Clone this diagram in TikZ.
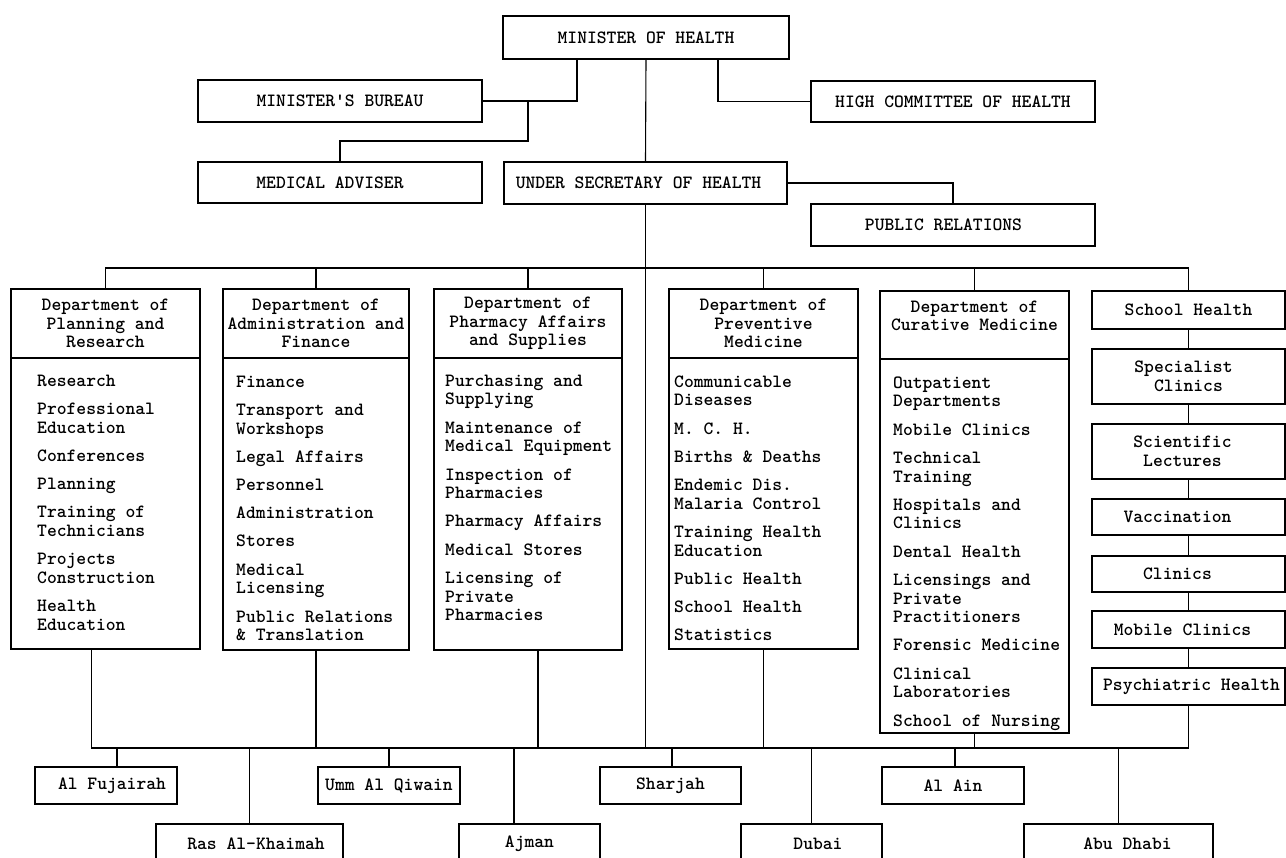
\documentclass[tikz,border=0pt]{standalone}
\usepackage{fontspec}
\begin{document}
\begin{tikzpicture}[x=1pt,y=-1pt,
  every node/.style={font=\fontsize{18.7}{18.7}\selectfont\ttfamily\bfseries},
  box/.style={draw, line width=1.1pt, inner sep=0pt, align=center},
  sz/.style 2 args={minimum width=#1pt, minimum height=#2pt},
  ln/.style={line width=1.1pt},
  list/.style={anchor=north west, align=left, inner sep=0pt},
]
\useasboundingbox (0,0) rectangle (1286,858);
\clip (0,0) rectangle (1286,858);

% ---- top level ----
\node[box, sz={286}{43}] (min) at (646,37.5) {MINISTER OF HEALTH};
\node[box, sz={284}{42}] (bureau) at (340,101) {MINISTER\textquotesingle S BUREAU};
\node[box, sz={284}{41}] (hc) at (953,101.5) {HIGH COMMITTEE OF HEALTH};
\node[box, sz={284}{41}] (medadv) at (340,182.5) {MEDICAL ADVISER\hspace*{20pt}};
\node[box, sz={283}{42}] (usec) at (645.5,183) {UNDER SECRETARY OF HEALTH\hspace*{14pt}};
\node[box, sz={284}{42}] (pr) at (953,225) {PUBLIC RELATIONS\hspace*{19pt}};

\coordinate (jb) at (528,101);
\coordinate (jm) at (528,141);
\draw[ln] ([xshift=-69pt]min.south) |- (bureau.east);
\draw[ln] (jb) -- (jm) -| (medadv.north);
\draw[ln] (min.south) -- (usec.north);
\draw[ln] ([xshift=72pt]min.south) |- (hc.west);
\draw[ln] (usec.east) -| (pr.north);

% ---- departments ----
\node[box, sz={189}{69}] (plan) at (105.5,323.5) {Department of\\Planning and\\Research};
\node[box, sz={189}{291}] (planb) at (105.5,503.5) {};
\node[list] (planl) at (37,373) {\strut Research\\[9.5pt]Professional\\Education\\[9.5pt]Conferences\\[9.5pt]Planning\\[9.5pt]Training of\\Technicians\\[9.5pt]Projects\\Construction\\[9.5pt]Health\\Education};

\node[box, sz={186}{69}] (adm) at (316,323.5) {Department of\\Administration and\\Finance};
\node[box, sz={186}{292}] (admb) at (316,504) {};
\node[list] (adml) at (236,374) {\strut Finance\\[9.5pt]Transport and\\Workshops\\[9.5pt]Legal Affairs\\[9.5pt]Personnel\\[9.5pt]Administration\\[9.5pt]Stores\\[9.5pt]Medical\\Licensing\\[9.5pt]Public Relations\\\& Translation};

\node[box, sz={188}{69}] (ph) at (528,323.5) {Department of\\Pharmacy Affairs\\and Supplies};
\node[box, sz={188}{292}] (phb) at (528,504) {};
\node[list] (phl) at (445,373) {\strut Purchasing and\\Supplying\\[9.5pt]Maintenance of\\Medical Equipment\\[9.5pt]Inspection of\\Pharmacies\\[9.5pt]Pharmacy Affairs\\[9.5pt]Medical Stores\\[9.5pt]Licensing of\\Private\\Pharmacies};

\node[box, sz={189}{69}] (prv) at (763.5,323.5) {Department of\\Preventive\\Medicine};
\node[box, sz={189}{291}] (prvb) at (763.5,503.5) {};
\node[list] (prvl) at (674,374) {\strut Communicable\\Diseases\\[9.5pt]M. C. H.\\[9.5pt]Births \& Deaths\\[9.5pt]Endemic Dis.\\Malaria Control\\[9.5pt]Training Health\\Education\\[9.5pt]Public Health\\[9.5pt]School Health\\[9.5pt]Statistics};

\node[box, sz={189}{68}] (cur) at (974.5,325) {Department of\\Curative Medicine\\\mbox{}};
\node[box, sz={189}{374}] (curb) at (974.5,546) {};
\node[list] (curl) at (893,375) {\strut Outpatient\\Departments\\[9.5pt]Mobile Clinics\\[9.5pt]Technical\\Training\\[9.5pt]Hospitals and\\Clinics\\[9.5pt]Dental Health\\[9.5pt]Licensings and\\Private\\Practitioners\\[9.5pt]Forensic Medicine\\[9.5pt]Clinical\\Laboratories\\[9.5pt]School of Nursing};

% ---- school health column ----
\node[box, sz={193}{38}] (sh) at (1188.5,310) {School Health};
\node[box, sz={193}{55}] (spc) at (1188.5,376.5) {Specialist\hspace*{10pt}\\Clinics};
\node[box, sz={193}{55}] (sci) at (1188.5,451.5) {Scientific\hspace*{12pt}\\Lectures\hspace*{12pt}};
\node[box, sz={193}{36}] (vac) at (1188.5,517) {Vaccination\hspace*{22pt}};
\node[box, sz={193}{36}] (cln) at (1188.5,574) {Clinics\hspace*{22pt}};
\node[box, sz={193}{37}] (mob) at (1188.5,629.5) {Mobile Clinics\hspace*{12pt}};
\node[box, sz={193}{37}] (psy) at (1188.5,686.5) {\hspace*{6pt}Psychiatric Health};
\draw[ln] (sh.south) -- (spc.north);
\draw[ln] (spc.south) -- (sci.north);
\draw[ln] (sci.south) -- (vac.north);
\draw[ln] (vac.south) -- (cln.north);
\draw[ln] (cln.south) -- (mob.north);
\draw[ln] (mob.south) -- (psy.north);

% ---- upper bus ----
\coordinate (ub) at (0,268);
\draw[ln] (plan.north) |- (sh.north |- ub) -- (sh.north);
\draw[ln] (adm.north) -- +(0,-21);
\draw[ln] (ph.north) -- +(0,-21);
\draw[ln] (prv.north) -- +(0,-21);
\draw[ln] (cur.north) -- +(0,-23);

% ---- lower bus ----
\coordinate (lb) at (0,748);
\draw[ln] ([xshift=-14pt]planb.south) |- (psy.south |- lb) -- (psy.south);
\draw[ln] (admb.south) -- +(0,98);
\draw[ln] ([xshift=10pt]phb.south) -- +(0,98);
\draw[ln] (prvb.south) -- +(0,99);
\draw[ln] (curb.south) -- +(0,15);
\draw[ln] (usec.south) -- (usec.south |- lb);

% ---- emirates ----
\node[box, sz={142}{37}] (fuj) at (106,785.5) {\hspace*{12pt}Al Fujairah};
\node[box, sz={142}{37}] (umm) at (389,785.5) {Umm Al Qiwain};
\node[box, sz={141}{37}] (shj) at (670.5,785.5) {Sharjah};
\node[box, sz={142}{37}] (ain) at (953,785.5) {Al Ain};
\node[box, sz={187}{40}] (ras) at (249.5,844) {\hspace*{13pt}Ras Al-Khaimah};
\node[box, sz={141}{40}] (ajm) at (529.5,844) {Ajman};
\node[box, sz={141}{40}] (dub) at (811.5,844) {\hspace*{13pt}Dubai};
\node[box, sz={189}{40}] (abu) at (1118.5,844) {\hspace*{18pt}Abu Dhabi};

\draw[ln] ([xshift=11pt]fuj.north) -- +(0,-19);
\draw[ln] (umm.north) -- +(0,-19);
\draw[ln] ([xshift=1.5pt]shj.north) -- +(0,-19);
\draw[ln] ([xshift=2pt]ain.north) -- +(0,-19);
\draw[ln] (ras.north) -- +(0,-76);
\draw[ln] ([xshift=-15.5pt]ajm.north) -- +(0,-76);
\draw[ln] (dub.north) -- +(0,-76);
\draw[ln] (abu.north) -- +(0,-76);
\end{tikzpicture}
\end{document}
